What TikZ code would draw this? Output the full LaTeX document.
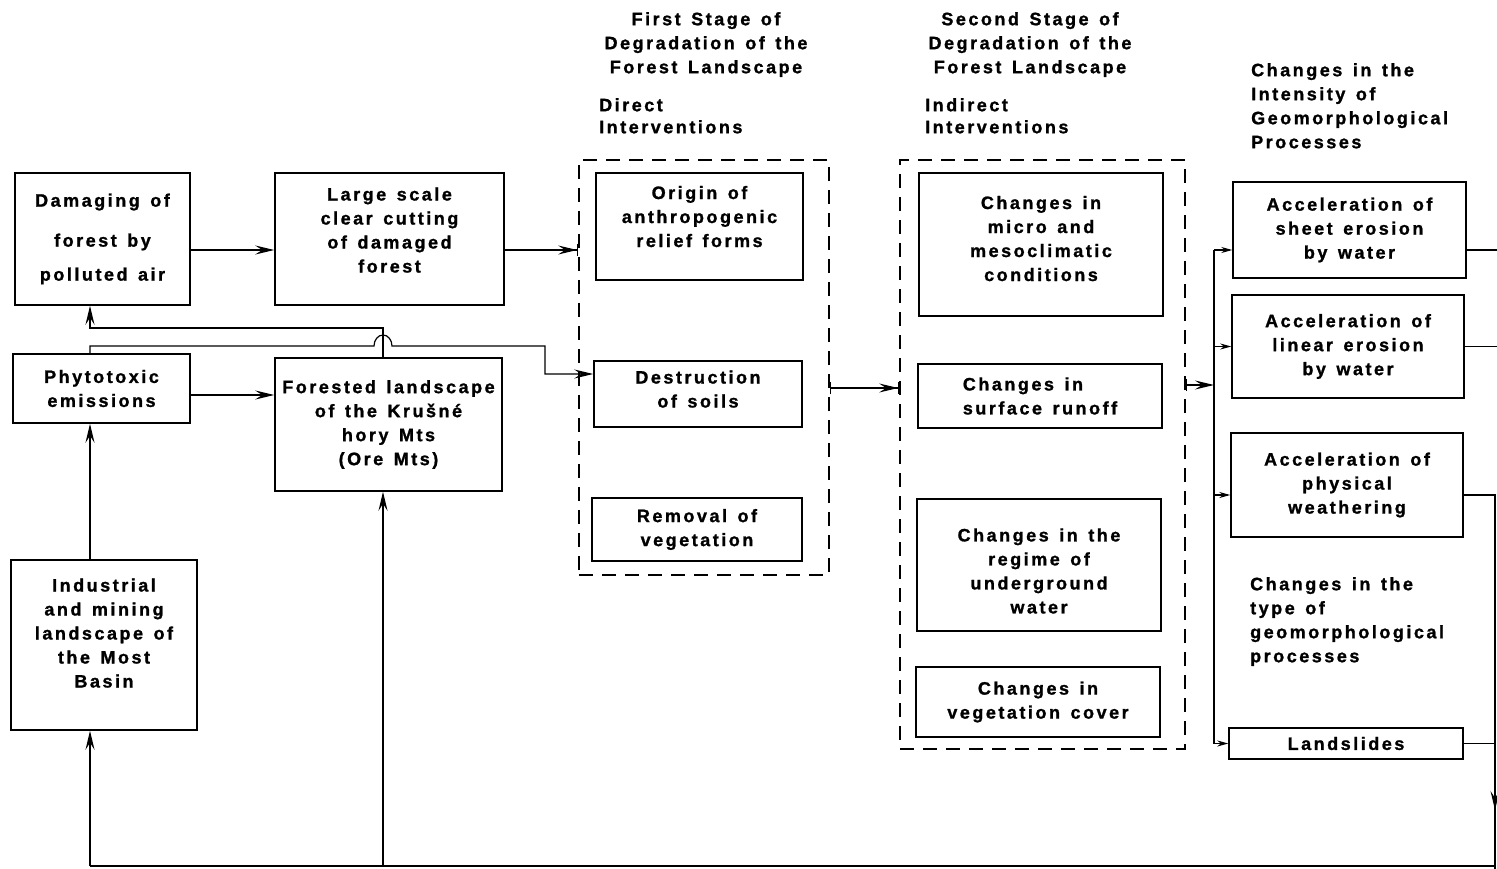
\documentclass[tikz,border=0pt]{standalone}
\usepackage{fontspec}
\setmainfont{Liberation Sans}[LetterSpace=14, WordSpace=1.4, BoldFeatures={FakeBold=1.2}]
\usetikzlibrary{arrows.meta,calc,positioning}
\tikzset{%
	box/.style      = {draw, rectangle, line width=1.5pt, align=center, inner sep=0pt}, % process box
	stagebox/.style = {draw, rectangle, line width=1.3pt, dash pattern=on 14pt off 9pt}, % stage frame
	head/.style     = {align=center, anchor=north, inner sep=0pt}, % column heading
	headleft/.style = {align=left, anchor=north west, inner sep=0pt},
	link/.style     = {line width=1.2pt},
	arrow/.style    = {line width=1.2pt, -{Stealth[length=19pt,width=9pt,inset=7pt]}},
	bararrow/.style = {line width=1.2pt, -{Stealth[length=19pt,width=9pt,inset=7pt]Bar[width=12pt]}},
	bothbar/.style  = {line width=1.2pt, {Bar[width=12pt]}-{Stealth[length=19pt,width=9pt,inset=7pt]Bar[width=12pt]}},
	fromstage/.style= {line width=1.2pt, {Bar[width=12pt]}-{Stealth[length=19pt,width=9pt,inset=7pt]}},
	small/.style    = {line width=1.2pt, -{Stealth[length=11pt,width=6pt]}},
}

\begin{document}
\begin{tikzpicture}[x=1pt,y=-1pt,font=\fontsize{18}{24}\selectfont\bfseries]
	\useasboundingbox (0,0) rectangle (1497,869);

	% headings
	\node [head] (h1) at (706,12) {First Stage of\\Degradation of the\\Forest Landscape};
	\node [headleft] (d1) at (599,98) {Direct\\[-2pt]Interventions};
	\node [head] (h2) at (1030,12) {Second Stage of\\Degradation of the\\Forest Landscape};
	\node [headleft] (d2) at (925,98) {Indirect\\[-2pt]Interventions};
	\node [headleft] (h3) at (1251,63) {Changes in the\\Intensity of\\Geomorphological\\Processes};
	\node [headleft] (h4) at (1250,577) {Changes in the\\type of\\geomorphological\\processes};

	% left part
	\node [box, minimum width=175pt, minimum height=132pt] (dmg) at (102.5,239) {Damaging of\\[16pt]forest by\\[10pt]polluted air};
	\node [box, minimum width=229pt, minimum height=132pt] (clear) at (389.5,239) {Large scale\\clear cutting\\of damaged\\forest\\[-6pt]\mbox{}};
	\node [box, minimum width=177pt, minimum height=69pt] (phyto) at (101.5,388.5) {Phytotoxic\\emissions};
	\node [box, minimum width=227pt, minimum height=133pt] (forested) at (388.5,424.5) {Forested landscape\\of the Krušné\\hory Mts\\(Ore Mts)};
	\node [box, minimum width=186pt, minimum height=170pt] (industrial) at (104,645) {Industrial\\and mining\\landscape of\\the Most\\Basin\\[0pt]\mbox{}};

	% first stage
	\node [stagebox, minimum width=250pt, minimum height=415pt] (stage1) at (704,367.5) {};
	\node [box, minimum width=207pt, minimum height=107pt] (origin) at (699.5,226.5) {Origin of\\anthropogenic\\relief forms\\[-4pt]\mbox{}};
	\node [box, minimum width=208pt, minimum height=66pt] (destruction) at (698,394) {Destruction\\of soils\\[-14pt]\mbox{}};
	\node [box, minimum width=210pt, minimum height=63pt] (removal) at (697,529.5) {Removal of\\vegetation};

	% second stage
	\node [stagebox, minimum width=285pt, minimum height=589pt] (stage2) at (1042.5,454.5) {};
	\node [box, minimum width=244pt, minimum height=143pt] (micro) at (1041,244.5) {Changes in\\micro and\\mesoclimatic\\conditions\\[-12pt]\mbox{}};
	\node [box, minimum width=244pt, minimum height=64pt, align=left] (runoff) at (1040,396) {Changes in\\surface runoff};
	\node [box, minimum width=244pt, minimum height=132pt] (regime) at (1039,565) {\mbox{}\\[1pt]Changes in the\\regime of\\underground\\water};
	\node [box, minimum width=244pt, minimum height=70pt] (cover) at (1038,702) {Changes in\\vegetation cover};

	% geomorphological processes
	\node [box, minimum width=233pt, minimum height=96pt] (sheet) at (1349.5,230) {Acceleration of\\sheet erosion\\by water};
	\node [box, minimum width=232pt, minimum height=103pt] (linear) at (1348,346.5) {Acceleration of\\linear erosion\\by water};
	\node [box, minimum width=232pt, minimum height=104pt] (physical) at (1347,485) {Acceleration of\\physical\\weathering};
	\node [box, minimum width=234pt, minimum height=31pt] (slides) at (1346,743.5) {Landslides};

	% rails
	\coordinate (colA) at (90,0);
	\coordinate (colB) at (383,0);
	\coordinate (colC) at (545,0);
	\coordinate (bus) at (1214,0);
	\coordinate (rbus) at (1495,0);
	\coordinate (rim) at (1497,0);
	\coordinate (upper) at (0,328);
	\coordinate (lower) at (0,346);
	\coordinate (bottom) at (0,866);
	\coordinate (mid) at (0,810);
	\coordinate (base) at (0,869);
	\coordinate (stageout) at ([yshift=69.5pt]stage2.east);
	\coordinate (sheetin) at ([yshift=-20pt]sheet.west);
	\coordinate (sheetout) at ([yshift=-20pt]sheet.east);
	\coordinate (physin) at ([yshift=-10pt]physical.west);
	\coordinate (physout) at ([yshift=-10pt]physical.east);

	\draw[arrow] ([yshift=-11pt]dmg.east) -- ([yshift=-11pt]dmg.east -| clear.west);
	\draw[bararrow] ([yshift=-11pt]clear.east) -- ([yshift=-11pt]clear.east -| stage1.west);
	\draw[arrow] ([yshift=-6.5pt]phyto.east) -- ([yshift=-6.5pt]phyto.east -| forested.west);
	\draw[arrow] (colA |- industrial.north) -- (colA |- phyto.south);
	\draw[arrow] (colB |- forested.north) -- (colB |- upper) -| (colA |- dmg.south);
	\draw[arrow] (colA |- phyto.north) -- (colA |- lower) -- ([xshift=-9pt]colB |- lower)
		arc[start angle=180, end angle=360, x radius=9, y radius=11] -- (colC |- lower) |- ([yshift=20pt]destruction.west);
	\draw[bothbar] ([yshift=-20.5pt]stage1.east) -- ([yshift=-20.5pt]stage1.east -| stage2.west);

	% right part
	\draw[fromstage] (stageout) -- (bus |- stageout);
	\draw[link] (bus |- sheetin) -- (bus |- slides.west);
	\draw[small] (bus |- sheetin) -- (sheetin);
	\draw[small] (bus |- linear.west) -- (linear.west);
	\draw[small] (bus |- physin) -- (physin);
	\draw[small] (bus |- slides.west) -- (slides.west);
	\draw[link] (sheetout) -- (rim |- sheetout);
	\draw[link] (linear.east) -- (rim |- linear.east);
	\draw[arrow] (physout) -- (rbus |- physout) -- (rbus |- mid);
	\draw[link] (slides.east) -- (rbus |- slides.east);
	\draw[link] ([yshift=4pt]rbus |- mid) -- (rbus |- base);
	\draw[link] (rbus |- bottom) -- (colA |- bottom);
	\draw[arrow] (colA |- bottom) -- (colA |- industrial.south);
	\draw[arrow] (colB |- bottom) -- (colB |- forested.south);
\end{tikzpicture}
\end{document}
